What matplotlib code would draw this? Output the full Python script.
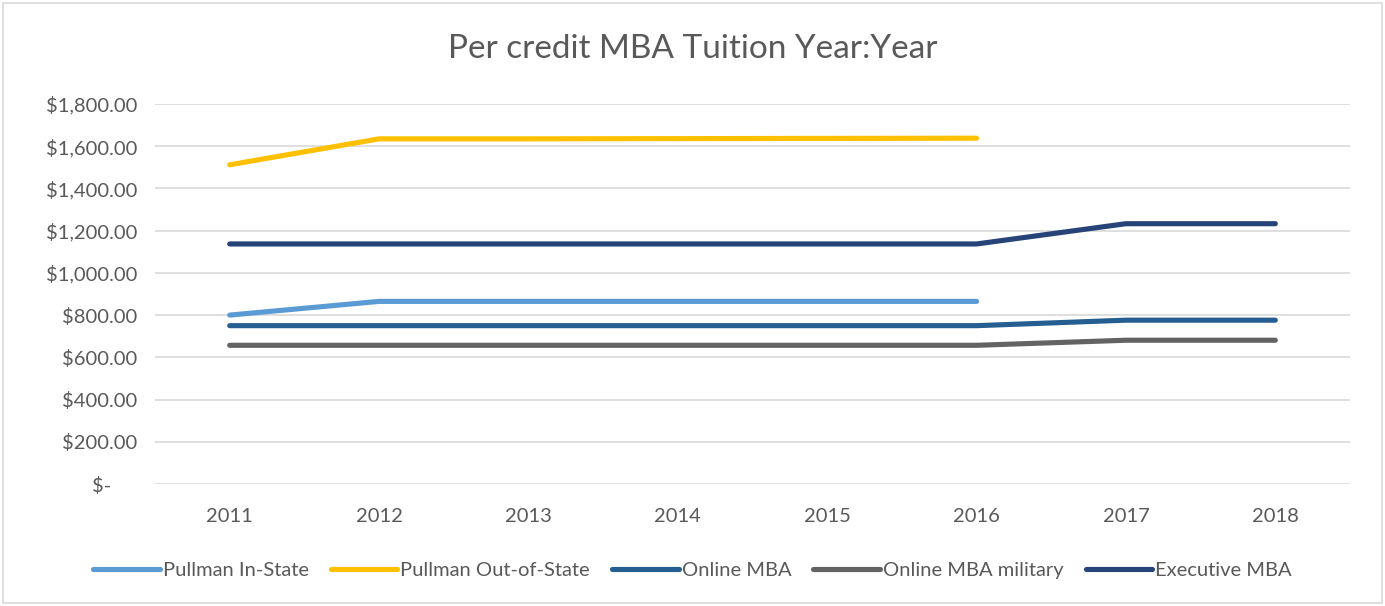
import numpy as np
import matplotlib.pyplot as plt
from matplotlib.patches import Rectangle

plt.rcParams['font.family'] = ['Lato', 'DejaVu Sans']

# data
years = ["2011", "2012", "2013", "2014", "2015", "2016", "2017", "2018"]
in_state = [800, 865, 865, 865, 865, 865, np.nan, np.nan]
out_state = [1512, 1635, 1635, 1636, 1637, 1638, np.nan, np.nan]
online_mba = [750, 750, 750, 750, 750, 750, 776, 776]
online_military = [657, 657, 657, 657, 657, 657, 681, 681]
executive_mba = [1137, 1137, 1137, 1137, 1137, 1137, 1233, 1233]

series = [
    ("Pullman In-State", in_state, "#5B9BD5"),
    ("Pullman Out-of-State", out_state, "#FFC000"),
    ("Online MBA", online_mba, "#255E91"),
    ("Online MBA military", online_military, "#636363"),
    ("Executive MBA", executive_mba, "#264478"),
]

yticks = [0, 200, 400, 600, 800, 1000, 1200, 1400, 1600, 1800]
ytick_labels = ["$-     "] + [f"${v:,.2f}" for v in yticks[1:]]

fig = plt.figure(figsize=(13.85, 6.06), dpi=100)
ax = fig.add_axes([155 / 1385, 1 - 484 / 606, 1195 / 1385, 380 / 606])

x = np.arange(len(years))
for name, vals, col in series:
    ax.plot(x, vals, color=col, lw=3.7, label=name,
            solid_capstyle="round", solid_joinstyle="round")

ax.set_xlim(-0.5, len(years) - 0.5)
ax.set_ylim(0, 1800)
ax.set_xticks(x)
ax.set_xticklabels(years)
ax.set_yticks(yticks)
ax.set_yticklabels(ytick_labels)
ax.tick_params(axis="both", length=0, labelsize=14.5, colors="#595959")
ax.tick_params(axis="x", pad=17)
ax.tick_params(axis="y", pad=13)
ax.grid(axis="y", color="#D9D9D9", lw=1.2)
ax.set_axisbelow(True)
for s in ax.spines.values():
    s.set_visible(False)

fig.text(0.5, 1 - 49 / 606, "Per credit MBA Tuition Year:Year", ha="center",
         va="center", fontsize=24, color="#595959")

fig.legend(loc="center", bbox_to_anchor=(0.5, 1 - 570 / 606), ncol=5,
           frameon=False, fontsize=14.5, handlelength=3.3, handletextpad=0.15,
           columnspacing=1.1, labelcolor="#595959")

fig.add_artist(Rectangle((3 / 1385, 3 / 606), 1 - 6 / 1385, 1 - 6 / 606,
                         transform=fig.transFigure, fill=False,
                         edgecolor="#D9D9D9", lw=1.2))

fig.savefig("out.png", dpi=100)
